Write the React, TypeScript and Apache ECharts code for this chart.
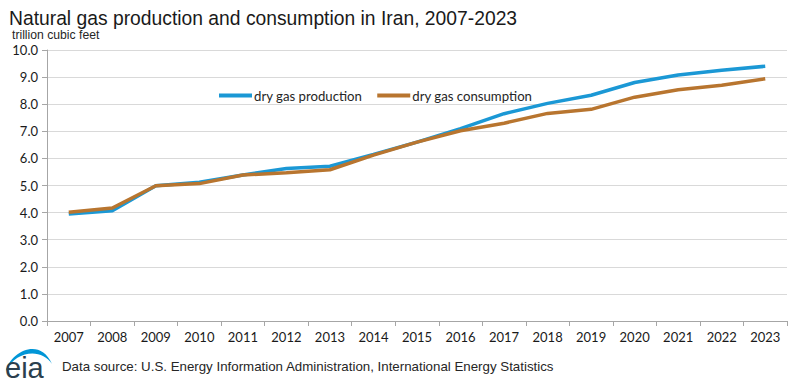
import React, { useEffect, useRef } from "react";
import * as echarts from "echarts";

const years = ["2007","2008","2009","2010","2011","2012","2013","2014","2015","2016","2017","2018","2019","2020","2021","2022","2023"];
const production = [3.95, 4.07, 4.99, 5.12, 5.39, 5.63, 5.71, 6.15, 6.6, 7.1, 7.65, 8.03, 8.33, 8.8, 9.08, 9.25, 9.4];
const consumption = [4.01, 4.17, 4.99, 5.07, 5.39, 5.47, 5.58, 6.12, 6.6, 7.02, 7.3, 7.66, 7.81, 8.26, 8.53, 8.7, 8.94];
const yTicks = { min: 0, max: 10, interval: 1 };

echarts.graphic.registerShape(
  "eiaSwoosh",
  echarts.graphic.extendPath("M6 371 C10 352 40 336 52 364 C42 348 16 350 6 371 Z", {})
);

export default function App() {
  const ref = useRef<HTMLDivElement>(null);
  useEffect(() => {
    const chart = echarts.init(ref.current!, null, { renderer: "svg" });
    chart.setOption({
      animation: false,
      backgroundColor: "#ffffff",
      title: {
        text: "Natural gas production and consumption in Iran, 2007-2023",
        left: 4,
        top: 2,
        textStyle: { fontFamily: "Liberation Sans", fontSize: 19.3, lineHeight: 22, fontWeight: "normal", color: "#1a1a1a" },
      },
      legend: {
        left: 214,
        top: 84,
        itemWidth: 33,
        itemHeight: 4,
        itemGap: 15,
        icon: "rect",
        textStyle: { fontFamily: "Lato", fontSize: 13.2, color: "#262626", padding: [0, 0, 0, -3] },
        data: ["dry gas production", "dry gas consumption"],
      },
      grid: { left: 47, right: 13, top: 50, bottom: 68, containLabel: false },
      xAxis: {
        type: "category",
        data: years,
        boundaryGap: true,
        axisLine: { lineStyle: { color: "#a6a6a6" } },
        axisTick: { show: true, length: 5, lineStyle: { color: "#a6a6a6" } },
        axisLabel: { fontFamily: "Lato", fontSize: 13, color: "#1a1a1a", margin: 9 },
      },
      yAxis: {
        type: "value",
        min: yTicks.min,
        max: yTicks.max,
        interval: yTicks.interval,
        axisLine: { show: true, lineStyle: { color: "#a6a6a6" } },
        axisTick: { show: true, length: 5, lineStyle: { color: "#a6a6a6" } },
        splitLine: { lineStyle: { color: "#d9d9d9" } },
        axisLabel: { fontFamily: "Lato", fontSize: 13, color: "#1a1a1a", margin: 9, formatter: (v: number) => v.toFixed(1) },
      },
      graphic: [
        {
          type: "text",
          left: 12,
          top: 29,
          style: { text: "trillion cubic feet", fontFamily: "Liberation Sans", fontSize: 12.2, fill: "#262626" },
        },
        {
          type: "text",
          left: 62,
          top: 360,
          style: {
            text: "Data source: U.S. Energy Information Administration, International Energy Statistics",
            fontFamily: "Liberation Sans Narrow, Liberation Sans",
            fontSize: 13.3,
            fill: "#262626",
          },
        },
        {
          type: "eiaSwoosh",
          x: 0,
          y: 0,
          style: { fill: "#0096d7" },
        },
        {
          type: "text",
          left: 5,
          top: 353,
          style: { text: "eia", fontFamily: "Liberation Sans", fontSize: 29, fill: "#2b3f4e" },
        },
      ],
      series: [
        {
          name: "dry gas production",
          type: "line",
          data: production,
          symbol: "none",
          lineStyle: { width: 3.5, color: "#1b98d5" },
          itemStyle: { color: "#1b98d5" },
        },
        {
          name: "dry gas consumption",
          type: "line",
          data: consumption,
          symbol: "none",
          lineStyle: { width: 3.5, color: "#b8752f" },
          itemStyle: { color: "#b8752f" },
        },
      ],
    });
    return () => chart.dispose();
  }, []);
  return <div ref={ref} style={{ width: 800, height: 389, position: "absolute", left: 0, top: 0 }} />;
}
